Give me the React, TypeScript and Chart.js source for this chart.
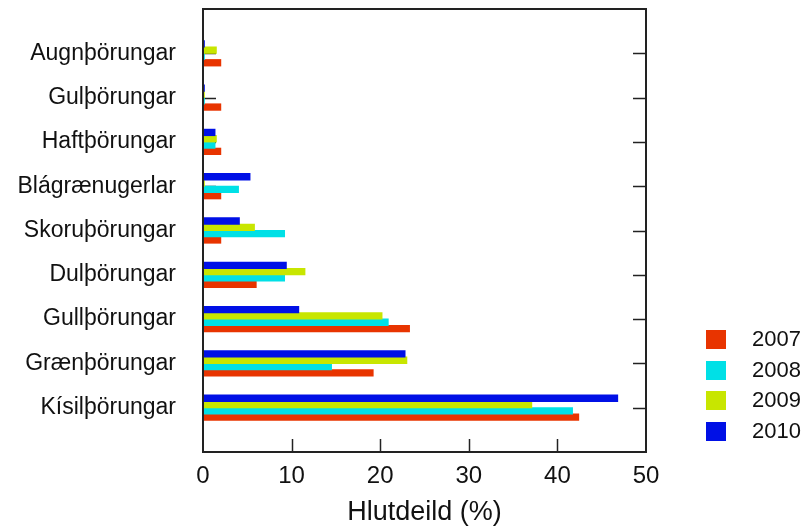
import React, { useEffect, useRef } from 'react';
import { Chart, registerables } from 'chart.js';

Chart.register(...registerables);

// Algae groups, drawn from top to bottom
const groups = [
  'Augnþörungar',
  'Gulþörungar',
  'Haftþörungar',
  'Blágrænugerlar',
  'Skoruþörungar',
  'Dulþörungar',
  'Gullþörungar',
  'Grænþörungar',
  'Kísilþörungar',
];

const years = ['2007', '2008', '2009', '2010'];

// Share of each group (%) per year
const share2007 = [2.0, 2.0, 2.0, 2.0, 2.0, 6.0, 23.3, 19.2, 42.4];
const share2008 = [0.15, 0.15, 1.35, 4.0, 9.2, 9.2, 20.9, 14.5, 41.7];
const share2009 = [1.5, 0.15, 1.5, 0.15, 5.8, 11.5, 20.2, 23.0, 37.1];
const share2010 = [0.15, 0.15, 1.35, 5.3, 4.1, 9.4, 10.8, 22.8, 46.8];

const xTicks = [0, 10, 20, 30, 40, 50];

const yearColors = ['#e83400', '#00e0e6', '#c8e600', '#0010e6'];

const FONT = '"Liberation Sans", Arial, Helvetica, sans-serif';
const INK = '#111';

// One empty slot above and below the groups keeps the outer margins of the frame
const rowLabels = ['', ...groups, ''];
const pad = (values: number[]) => [null, ...values, null];

const framePlugin = {
  id: 'boxFrame',
  beforeDatasetsDraw(chart: any) {
    const { ctx, chartArea, scales } = chart;
    const { left, right, bottom } = chartArea;
    ctx.save();
    ctx.strokeStyle = '#222';
    ctx.lineWidth = 1.5;
    // inward ticks along the bottom
    xTicks.slice(1, -1).forEach((v) => {
      const px = Math.round(scales.x.getPixelForValue(v)) + 0.5;
      ctx.beginPath();
      ctx.moveTo(px, bottom);
      ctx.lineTo(px, bottom - 13);
      ctx.stroke();
    });
    // inward ticks on both sides at every group
    groups.forEach((_, i) => {
      const py = Math.round(scales.y.getPixelForValue(i + 1)) + 0.5;
      ctx.beginPath();
      ctx.moveTo(left, py);
      ctx.lineTo(left + 13, py);
      ctx.moveTo(right, py);
      ctx.lineTo(right - 13, py);
      ctx.stroke();
    });
    ctx.restore();
  },
  afterDatasetsDraw(chart: any) {
    const { ctx, chartArea } = chart;
    const { left, right, top, bottom } = chartArea;
    ctx.save();
    ctx.strokeStyle = '#222';
    ctx.lineWidth = 2;
    ctx.strokeRect(left, top, right - left, bottom - top);
    ctx.restore();
  },
};

export default function App() {
  const canvasRef = useRef<HTMLCanvasElement | null>(null);

  useEffect(() => {
    const canvas = canvasRef.current;
    if (!canvas) return;

    const series = [share2007, share2008, share2009, share2010];
    // 2010 is listed first so its bar sits on top of each group
    const order = [3, 2, 1, 0];

    const chart = new Chart(canvas, {
      type: 'bar',
      data: {
        labels: rowLabels,
        datasets: order.map((k) => ({
          label: years[k],
          data: pad(series[k]),
          backgroundColor: yearColors[k],
          borderWidth: 0,
          inflateAmount: 0.5,
          categoryPercentage: 0.57,
          barPercentage: 1,
        })),
      },
      options: {
        indexAxis: 'y',
        responsive: false,
        animation: false,
        layout: { padding: { top: 9, right: 162, bottom: 0, left: 0 } },
        plugins: {
          legend: { display: false },
          tooltip: { enabled: false },
        },
        scales: {
          x: {
            type: 'linear',
            min: 0,
            max: 50,
            grid: { display: false, drawTicks: false },
            border: { display: false },
            ticks: {
              stepSize: 10,
              padding: 10,
              color: INK,
              font: { family: FONT, size: 24 },
            },
            title: {
              display: true,
              text: 'Hlutdeild (%)',
              color: INK,
              font: { family: FONT, size: 27 },
              padding: { top: 0, bottom: 1 },
            },
            afterFit: (s: any) => {
              s.height = 78;
            },
          },
          y: {
            type: 'category',
            offset: false,
            grid: { display: false, drawTicks: false },
            border: { display: false },
            ticks: {
              autoSkip: false,
              padding: 27,
              color: INK,
              font: { family: FONT, size: 23 },
            },
            afterFit: (s: any) => {
              s.width = 203;
              s.paddingTop = 0;
              s.paddingBottom = 0;
            },
          },
        },
      },
      plugins: [framePlugin],
    });

    return () => chart.destroy();
  }, []);

  const rowCenters = [339, 370, 400, 431];

  return (
    <div style={{ position: 'fixed', left: 0, top: 0, width: 808, height: 530, background: '#fff' }}>
      <canvas ref={canvasRef} width={808} height={530} style={{ display: 'block' }} />
      {years.map((yr, i) => (
        <div
          key={yr}
          style={{
            position: 'absolute',
            left: 706,
            top: rowCenters[i] - 15,
            height: 30,
            display: 'flex',
            alignItems: 'center',
            fontFamily: FONT,
            fontSize: 22,
            color: INK,
          }}
        >
          <span style={{ display: 'inline-block', width: 20, height: 19, background: yearColors[i] }} />
          <span style={{ marginLeft: 26 }}>{yr}</span>
        </div>
      ))}
    </div>
  );
}
